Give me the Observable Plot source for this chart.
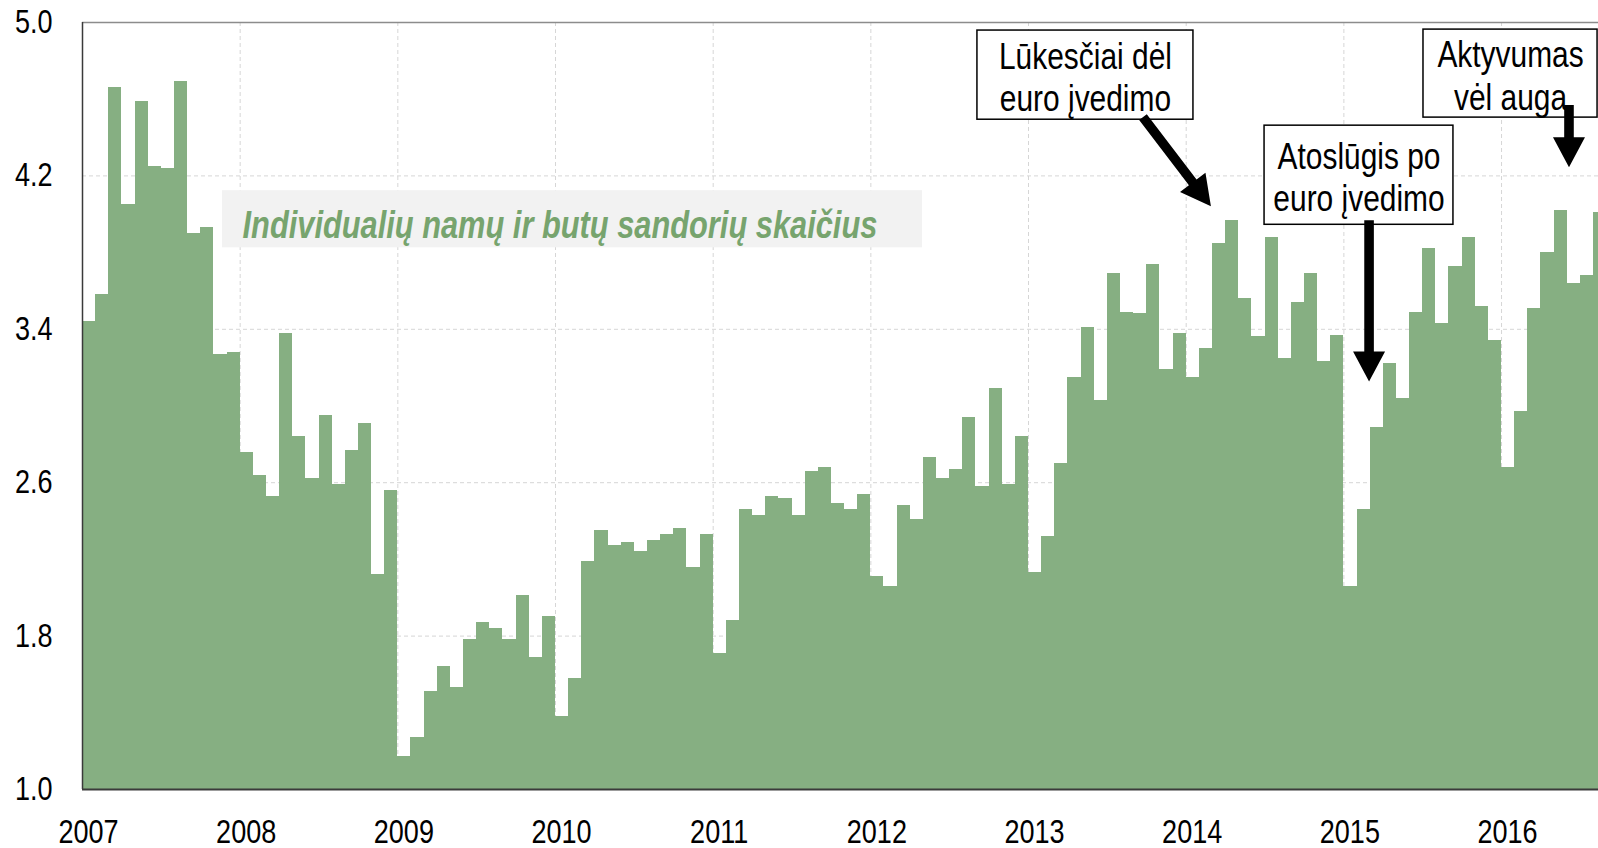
<!DOCTYPE html>
<html>
<head>
<meta charset="utf-8">
<script src="https://cdn.jsdelivr.net/npm/d3@7"></script>
<script src="https://cdn.jsdelivr.net/npm/@observablehq/plot@0.6"></script>
<style>
  html, body { margin: 0; padding: 0; background: #fff; }
  svg { display: block; }
</style>
</head>
<body>
<div id="chart"></div>
<script>
// ---- Data (monthly values, Jan..Dec of each year) ----
const years = [2007, 2008, 2009, 2010, 2011, 2012, 2013, 2014, 2015, 2016];
const v2007 = [3.44, 3.58, 4.66, 4.05, 4.59, 4.25, 4.24, 4.69, 3.90, 3.93, 3.27, 3.28];
const v2008 = [2.76, 2.64, 2.53, 3.38, 2.84, 2.62, 2.95, 2.59, 2.77, 2.91, 2.12, 2.56];
const v2009 = [1.17, 1.27, 1.51, 1.64, 1.53, 1.78, 1.87, 1.84, 1.78, 2.01, 1.69, 1.90];
const v2010 = [1.38, 1.58, 2.19, 2.35, 2.27, 2.29, 2.24, 2.30, 2.33, 2.36, 2.16, 2.33];
const v2011 = [1.71, 1.88, 2.46, 2.43, 2.53, 2.52, 2.43, 2.66, 2.68, 2.49, 2.46, 2.54];
const v2012 = [2.11, 2.06, 2.48, 2.41, 2.73, 2.62, 2.67, 2.94, 2.58, 3.09, 2.59, 2.84];
const v2013 = [2.13, 2.32, 2.70, 3.15, 3.41, 3.03, 3.69, 3.49, 3.48, 3.74, 3.19, 3.38];
const v2014 = [3.15, 3.30, 3.85, 3.97, 3.56, 3.36, 3.88, 3.25, 3.54, 3.69, 3.23, 3.37];
const v2015 = [2.06, 2.46, 2.89, 3.22, 3.04, 3.49, 3.82, 3.43, 3.73, 3.88, 3.52, 3.34];
const v2016 = [2.68, 2.97, 3.51, 3.80, 4.02, 3.64, 3.68, 4.01];
const yearValues = [v2007, v2008, v2009, v2010, v2011, v2012, v2013, v2014, v2015, v2016];

const yTicks = [1.0, 1.8, 2.6, 3.4, 4.2, 5.0];
const seriesLabel = "Individualių namų ir butų sandorių skaičius";
const noteLabels = ["Lūkesčiai dėl\neuro įvedimo", "Atoslūgis po\neuro įvedimo", "Aktyvumas\nvėl auga"];

// ---- Build table ----
const months = yearValues.flatMap((arr, i) =>
  arr.map((v, m) => ({ x1: years[i] + m / 12, x2: years[i] + (m + 1) / 12, value: v }))
);

// ---- Layout / styles (annotation placement in data units) ----
const FONT = "'Liberation Sans Narrow', 'Arial Narrow', 'Liberation Sans', Arial, sans-serif";
const NARROW = 0.82;        // horizontal condensing to imitate a narrow face
const TITLE_NARROW = 0.79;
const barColor = "#86af82";
const titleBox = { x1: 2007.888, x2: 2012.328, y1: 3.825, y2: 4.123, tx: 2008.015, ty: 3.974 };
const boxes = [
  { x1: 2012.676, x2: 2014.046, y1: 4.493, y2: 4.958, text: noteLabels[0] },
  { x1: 2014.497, x2: 2015.695, y1: 3.945, y2: 4.462, text: noteLabels[1] },
  { x1: 2015.505, x2: 2016.609, y1: 4.504, y2: 4.963, text: noteLabels[2] }
];
const arrows = [
  { x1: 2013.729, y1: 4.504, x2: 2014.160, y2: 4.039 },
  { x1: 2015.163, y1: 3.966, x2: 2015.163, y2: 3.125 },
  { x1: 2016.431, y1: 4.567, x2: 2016.431, y2: 4.243 }
];

const plot = Plot.plot({
  width: 1598,
  height: 848,
  marginTop: 22,
  marginBottom: 59,
  marginLeft: 82,
  marginRight: 0,
  style: { fontFamily: FONT, background: "#fff", color: "#000" },
  x: { domain: [2007, 2016.615], axis: null },
  y: { domain: [1, 5], axis: null },
  marks: [
    Plot.ruleY(yTicks.slice(1, -1), { stroke: "#d6d6d6", strokeDasharray: "4,3", strokeWidth: 1 }),
    Plot.ruleX(years.slice(1), { stroke: "#d6d6d6", strokeDasharray: "4,3", strokeWidth: 1 }),
    Plot.rectY(months, { x1: "x1", x2: "x2", y: "value", fill: barColor, clip: true, shapeRendering: "crispEdges" }),
    Plot.ruleY([5], { stroke: "#8c8c8c", strokeWidth: 1.5 }),
    Plot.ruleX([2007], { stroke: "#3a3a3a", strokeWidth: 1.5 }),
    Plot.ruleY([1], { stroke: "#3a3a3a", strokeWidth: 2 }),
    Plot.axisY({ ticks: yTicks, tickFormat: d => d.toFixed(1), tickSize: 0, tickPadding: 30, fontSize: 33, fill: "#000" }),
    Plot.axisX({ ticks: years, tickFormat: d => String(d), tickSize: 0, tickPadding: 30, fontSize: 33, dx: 6, fill: "#000" }),
    Plot.rect([titleBox], { x1: "x1", x2: "x2", y1: "y1", y2: "y2", fill: "#f2f2f2" }),
    Plot.text([titleBox], { x: "tx", y: "ty", text: () => seriesLabel, textAnchor: "start", fontSize: 39, dy: 6,
      fontWeight: "bold", fontStyle: "italic", fill: "#77a46e" }),
    Plot.rect(boxes, { x1: "x1", x2: "x2", y1: "y1", y2: "y2", fill: "#fff", stroke: "#000", strokeWidth: 1.5 }),
    Plot.text(boxes, { x: d => (d.x1 + d.x2) / 2, y: d => (d.y1 + d.y2) / 2, text: "text", fontSize: 36.5,
      lineHeight: 1.16, dy: 1.5, textAnchor: "middle", fill: "#000" })
  ]
});

document.getElementById("chart").appendChild(plot);

// ---- Condense text horizontally around its anchor ----
plot.querySelectorAll("text").forEach(t => {
  const s = t.textContent === seriesLabel ? TITLE_NARROW : NARROW;
  const b = t.getBBox();
  const anchor = getComputedStyle(t).textAnchor;
  const lx = anchor === "start" ? b.x : anchor === "end" ? b.x + b.width : b.x + b.width / 2;
  const prev = t.getAttribute("transform") || "";
  t.setAttribute("transform", `${prev} translate(${lx},0) scale(${s},1) translate(${-lx},0)`.trim());
});

// ---- Thick filled arrows, positioned through the plot's own scales ----
const sx = plot.scale("x"), sy = plot.scale("y");
const svg = d3.select(plot);
arrows.forEach(a => {
  const x1 = sx.apply(a.x1), y1 = sy.apply(a.y1), x2 = sx.apply(a.x2), y2 = sy.apply(a.y2);
  const L = Math.hypot(x2 - x1, y2 - y1);
  const ux = (x2 - x1) / L, uy = (y2 - y1) / L;
  const nx = -uy, ny = ux;
  const sw = 4.8, hw = 16, hl = 30;
  const bx = x2 - ux * hl, by = y2 - uy * hl;
  const pts = [
    [x1 + nx * sw, y1 + ny * sw], [bx + nx * sw, by + ny * sw], [bx + nx * hw, by + ny * hw],
    [x2, y2], [bx - nx * hw, by - ny * hw], [bx - nx * sw, by - ny * sw], [x1 - nx * sw, y1 - ny * sw]
  ];
  svg.append("path").attr("d", "M" + pts.map(p => p.join(",")).join("L") + "Z").attr("fill", "#000");
});
</script>
</body>
</html>
